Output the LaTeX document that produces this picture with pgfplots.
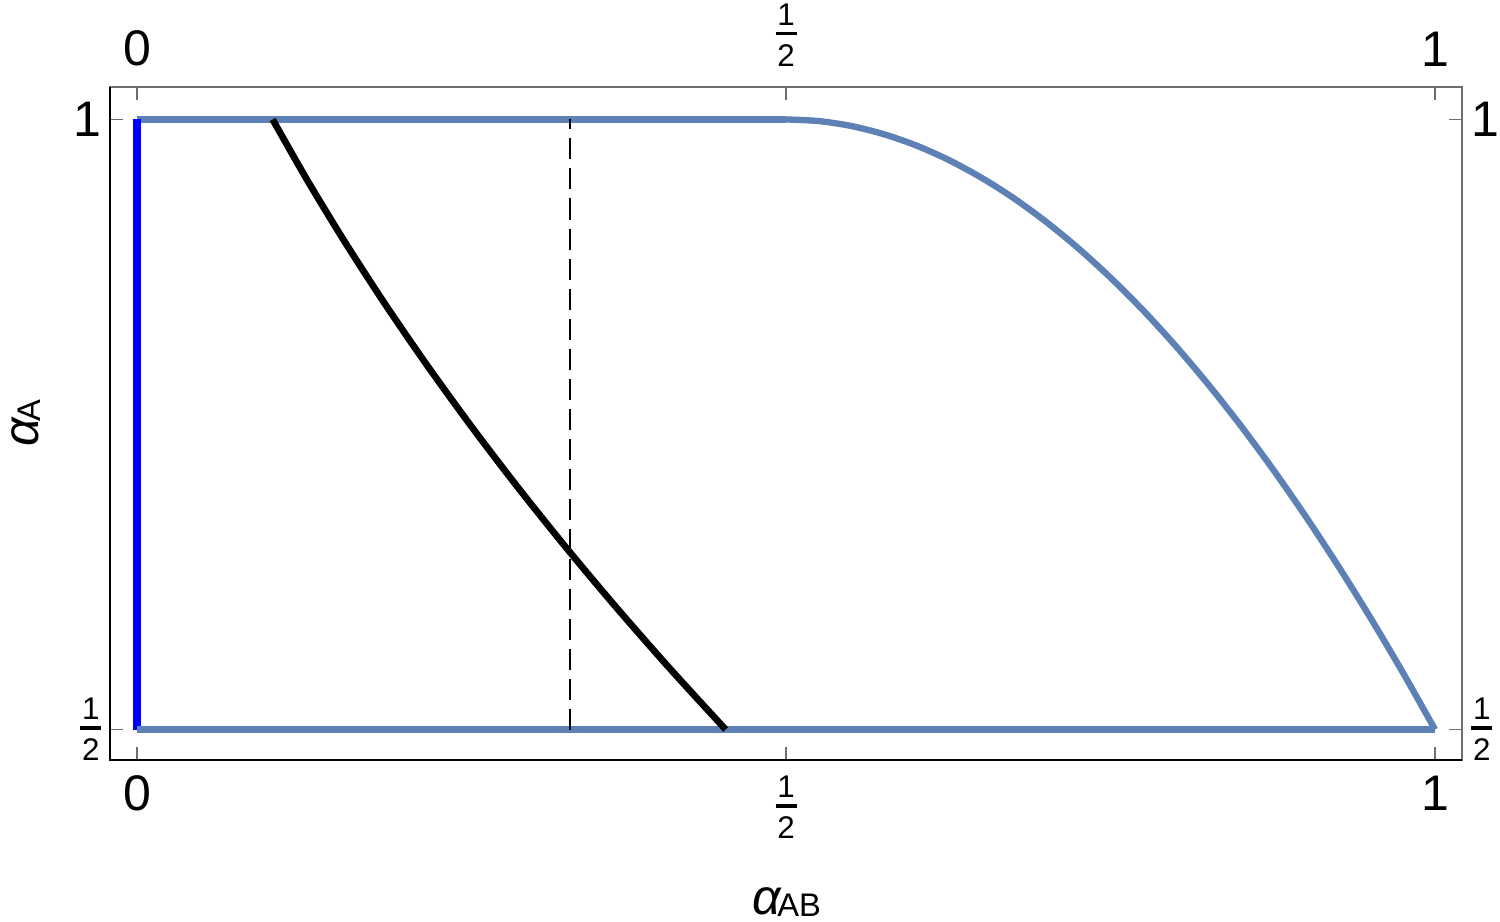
\documentclass[border=0pt]{standalone}
\usepackage{pgfplots}
\pgfplotsset{compat=1.18}
\usepackage{fontspec}
\setmainfont{Liberation Sans}
\definecolor{steel}{RGB}{94,129,181}
\definecolor{framegray}{RGB}{110,110,110}
\DeclareRobustCommand{\half}{{\fontsize{9.4pt}{11pt}\selectfont\vbox{\offinterlineskip
  \hbox to 6.3pt{\hss 1\hss}\kern2pt\hrule height 1.1pt\kern2.7pt\hbox to 6.3pt{\hss 2\hss}}}}
\newcommand{\lblfont}{\fontsize{15pt}{18pt}\selectfont}
\begin{document}
\begin{tikzpicture}
\pgfplotsset{
  common/.style={
    scale only axis, width=405.6pt, height=201.9pt,
    xmin=-0.0208, xmax=1.0208, ymin=0.475, ymax=1.0266,
    xtick={0,0.5,1}, xticklabels={0,\half,1},
    ytick={0.5,1}, yticklabels={\half,1},
    tick label style={font=\lblfont, inner sep=0pt},
    no marks,
  }
}
\begin{axis}[common, name=main,
    tick align=inside, major tick length=3.9pt,
    tick style={framegray, line width=0.5pt},
    axis line style={framegray, line width=0.6pt},
    xticklabel style={anchor=north, yshift=-4.5pt},
    yticklabel style={anchor=east, xshift=-2.4pt},
    xlabel={\lblfont{\itshape α}\kern-1.2pt\raisebox{-0.6pt}{\fontsize{9.8pt}{11pt}\selectfont AB}},
    ylabel={\lblfont{\itshape α}\kern-1.2pt\raisebox{-0.6pt}{\fontsize{9.8pt}{11pt}\selectfont A}},
    xlabel style={at={(axis description cs:0.5007,-0.211)}, anchor=center, inner sep=0pt},
    ylabel style={at={(axis description cs:-0.0621,0.5007)}, anchor=center, inner sep=0pt},
]
% upper boundary: flat part
\addplot[steel, line width=1.9pt] coordinates {(0,1) (0.5,1)};
% upper boundary: curved part
\addplot[steel, line width=1.9pt, smooth] coordinates {
  (0.500,1) (0.525,0.9987) (0.550,0.9947) (0.575,0.9880) (0.600,0.9788)
  (0.625,0.9670) (0.650,0.9526) (0.675,0.9358) (0.700,0.9164) (0.725,0.8946)
  (0.750,0.8703) (0.775,0.8437) (0.800,0.8146) (0.825,0.7832) (0.850,0.7495)
  (0.875,0.7135) (0.900,0.6752) (0.925,0.6347) (0.950,0.5920) (0.975,0.5471) (1,0.5)};
% blue vertical segment at x = 0
\addplot[blue, line width=2.5pt] coordinates {(0,0.5) (0,1)};
% lower boundary
\addplot[steel, line width=1.9pt] coordinates {(0,0.5) (1,0.5)};
% dashed vertical line
\addplot[black, line width=0.6pt, dash pattern=on 6.3pt off 2.7pt] coordinates {(0.3333,0.5) (0.3333,1)};
% black curve
\addplot[black, line width=2pt, smooth] coordinates {
  (0.1045,1) (0.1313,0.95) (0.1599,0.90) (0.1903,0.85) (0.2225,0.80)
  (0.2565,0.75) (0.2923,0.70) (0.3299,0.65) (0.3693,0.60) (0.4105,0.55) (0.4535,0.5)};
\end{axis}
\draw[black, line width=0.6pt] (main.north west) -- (main.south west) -- (main.south east);
\begin{axis}[common,
    axis line style={draw=none}, tick style={draw=none},
    xticklabel pos=right, yticklabel pos=right,
    xticklabel style={anchor=south, yshift=6pt},
    yticklabel style={anchor=west, xshift=2.6pt},
]
\end{axis}
\pgfresetboundingbox
\path[use as bounding box] (main.south west) ++(-33pt,-48.3pt) rectangle ++(450pt,276.3pt);
\end{tikzpicture}
\end{document}
